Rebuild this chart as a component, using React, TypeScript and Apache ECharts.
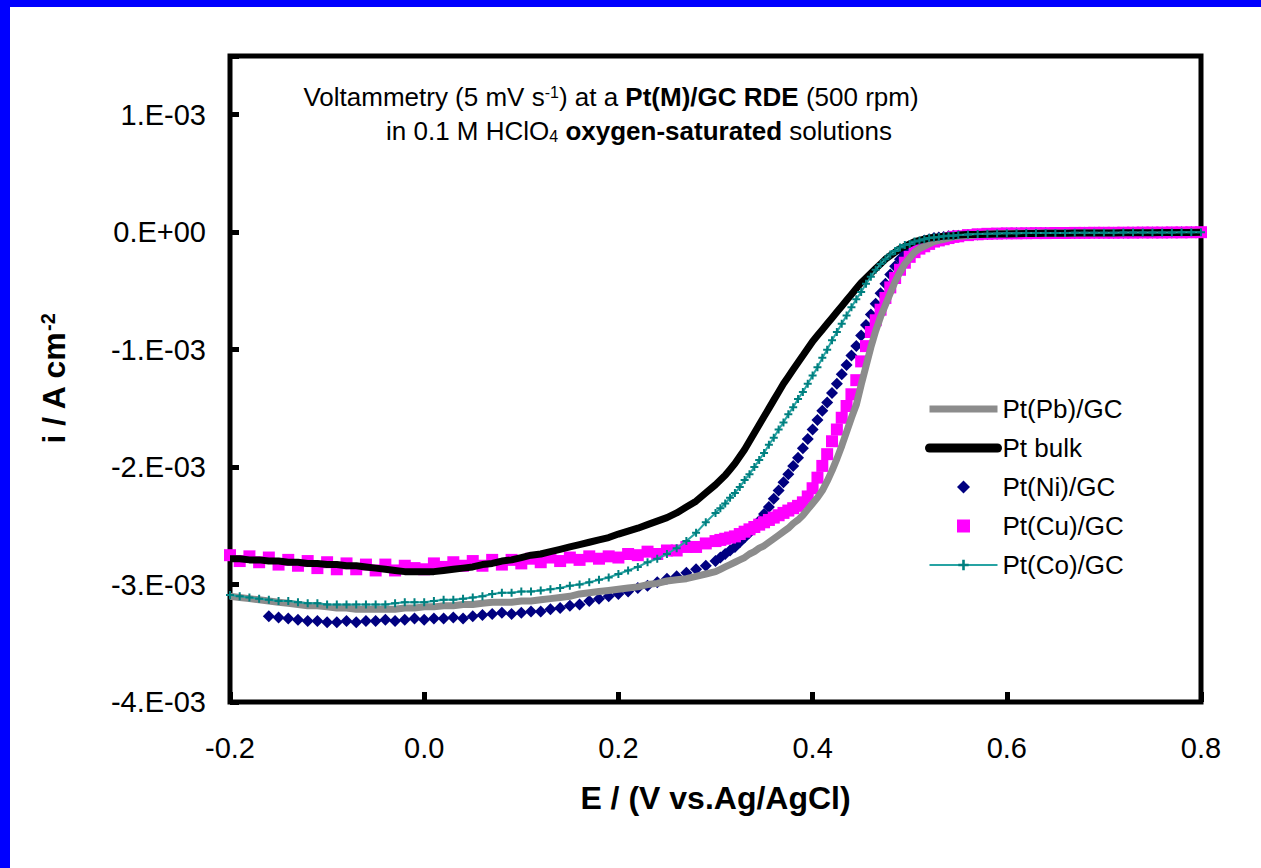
import React, { useEffect, useRef } from 'react';
import * as echarts from 'echarts';

// Potential E / V vs. Ag/AgCl
const potential = [
  -0.20, -0.19, -0.18, -0.17, -0.16, -0.15, -0.14, -0.13, -0.12, -0.11,
  -0.10, -0.09, -0.08, -0.07, -0.06, -0.05, -0.04, -0.03, -0.02, -0.01,
  0.00, 0.01, 0.02, 0.03, 0.04, 0.05, 0.06, 0.07, 0.08, 0.09,
  0.10, 0.11, 0.12, 0.13, 0.14, 0.15, 0.16, 0.17, 0.18, 0.19,
  0.20, 0.21, 0.22, 0.23, 0.24, 0.25, 0.26, 0.27, 0.28, 0.29,
  0.30,
  0.305, 0.31, 0.315, 0.32, 0.325, 0.33, 0.335, 0.34, 0.345, 0.35,
  0.355, 0.36, 0.365, 0.37, 0.375, 0.38, 0.385, 0.39, 0.395, 0.40,
  0.405, 0.41, 0.415, 0.42, 0.425, 0.43, 0.435, 0.44, 0.445, 0.45,
  0.455, 0.46, 0.465, 0.47, 0.475, 0.48, 0.485, 0.49, 0.495, 0.50,
  0.505, 0.51, 0.515, 0.52, 0.525, 0.53, 0.535, 0.54, 0.545, 0.55,
  0.56, 0.57, 0.58, 0.59, 0.60, 0.61, 0.62, 0.63, 0.64, 0.65,
  0.66, 0.67, 0.68, 0.69, 0.70, 0.71, 0.72, 0.73, 0.74, 0.75,
  0.76, 0.77, 0.78, 0.79, 0.80,
];

// Current density, in units of 1E-03 A cm^-2
const currentPtPb = [
  -3.10, -3.11, -3.12, -3.13, -3.14, -3.15, -3.16, -3.17, -3.18, -3.18,
  -3.19, -3.20, -3.20, -3.21, -3.21, -3.21, -3.21, -3.21, -3.20, -3.20,
  -3.19, -3.19, -3.18, -3.18, -3.17, -3.17, -3.16, -3.15, -3.15, -3.15,
  -3.14, -3.14, -3.13, -3.12, -3.11, -3.10, -3.08, -3.07, -3.06, -3.05,
  -3.04, -3.03, -3.02, -3.00, -2.99, -2.97, -2.96, -2.95, -2.93, -2.91,
  -2.89,
  -2.87, -2.85, -2.83, -2.81, -2.79, -2.77, -2.74, -2.72, -2.69, -2.67,
  -2.64, -2.61, -2.58, -2.55, -2.52, -2.48, -2.45, -2.41, -2.36, -2.31,
  -2.26, -2.20, -2.12, -2.03, -1.93, -1.82, -1.70, -1.58, -1.47, -1.30,
  -1.14, -0.98, -0.84, -0.72, -0.62, -0.52, -0.42, -0.34, -0.27, -0.22,
  -0.17, -0.14, -0.12, -0.10, -0.08, -0.07, -0.06, -0.05, -0.04, -0.035,
  -0.030, -0.022, -0.016, -0.013, -0.011, -0.010, -0.009, -0.008, -0.007, -0.007,
  -0.006, -0.006, -0.005, -0.005, -0.004, -0.004, -0.004, -0.003, -0.003, -0.003,
  -0.002, -0.002, -0.002, -0.001, -0.001,
];

const currentPtBulk = [
  -2.78, -2.78, -2.79, -2.79, -2.80, -2.80, -2.81, -2.81, -2.82, -2.82,
  -2.83, -2.83, -2.84, -2.84, -2.85, -2.86, -2.87, -2.88, -2.89, -2.89,
  -2.89, -2.89, -2.88, -2.87, -2.86, -2.85, -2.83, -2.82, -2.80, -2.79,
  -2.77, -2.75, -2.74, -2.72, -2.70, -2.68, -2.66, -2.64, -2.62, -2.60,
  -2.57, -2.545, -2.52, -2.49, -2.46, -2.43, -2.39, -2.34, -2.29, -2.22,
  -2.15,
  -2.11, -2.07, -2.02, -1.97, -1.91, -1.85, -1.78, -1.71, -1.64, -1.57,
  -1.50, -1.43, -1.36, -1.29, -1.23, -1.17, -1.11, -1.05, -0.99, -0.93,
  -0.88, -0.83, -0.78, -0.73, -0.68, -0.63, -0.58, -0.53, -0.48, -0.43,
  -0.39, -0.35, -0.31, -0.27, -0.23, -0.20, -0.17, -0.14, -0.12, -0.10,
  -0.08, -0.07, -0.06, -0.05, -0.045, -0.04, -0.035, -0.03, -0.03, -0.025,
  -0.020, -0.020, -0.018, -0.016, -0.015, -0.013, -0.012, -0.011, -0.010, -0.010,
  -0.009, -0.008, -0.008, -0.007, -0.006, -0.006, -0.005, -0.005, -0.004, -0.004,
  -0.003, -0.003, -0.002, -0.002, -0.001,
];

const currentPtNi = [
  null, null, null, null, -3.27, -3.28, -3.29, -3.30, -3.31, -3.31,
  -3.32, -3.32, -3.31, -3.32, -3.31, -3.31, -3.30, -3.31, -3.30, -3.29,
  -3.30, -3.29, -3.29, -3.28, -3.29, -3.27, -3.26, -3.25, -3.24, -3.25,
  -3.24, -3.23, -3.23, -3.21, -3.20, -3.18, -3.17, -3.14, -3.12, -3.10,
  -3.08, -3.06, -3.03, -3.01, -2.98, -2.95, -2.93, -2.90, -2.87, -2.84,
  -2.80,
  -2.77, -2.74, -2.71, -2.68, -2.64, -2.60, -2.56, -2.52, -2.46, -2.40,
  -2.34, -2.27, -2.20, -2.13, -2.06, -1.99, -1.92, -1.84, -1.76, -1.68,
  -1.60, -1.52, -1.45, -1.37, -1.29, -1.21, -1.13, -1.05, -0.97, -0.88,
  -0.79, -0.70, -0.61, -0.52, -0.44, -0.36, -0.29, -0.23, -0.18, -0.14,
  -0.11, -0.09, -0.07, -0.06, -0.05, -0.045, -0.04, -0.035, -0.03, -0.03,
  -0.025, -0.020, -0.016, -0.013, -0.011, -0.010, -0.009, -0.008, -0.008, -0.007,
  -0.006, -0.006, -0.005, -0.005, -0.005, -0.004, -0.004, -0.003, -0.003, -0.003,
  -0.002, -0.002, -0.001, -0.001, 0.000,
];

const currentPtCu = [
  -2.75, -2.80, -2.76, -2.81, -2.77, -2.83, -2.79, -2.84, -2.80, -2.86,
  -2.81, -2.87, -2.82, -2.87, -2.83, -2.88, -2.83, -2.88, -2.84, -2.86,
  -2.87, -2.82, -2.85, -2.81, -2.84, -2.80, -2.84, -2.79, -2.83, -2.79,
  -2.82, -2.78, -2.81, -2.77, -2.80, -2.77, -2.79, -2.76, -2.78, -2.76,
  -2.77, -2.74, -2.75, -2.72, -2.74, -2.71, -2.71, -2.68, -2.68, -2.65,
  -2.63,
  -2.62, -2.61, -2.60, -2.59, -2.57, -2.55, -2.53, -2.51, -2.49, -2.47,
  -2.45, -2.43, -2.41, -2.39, -2.37, -2.35, -2.33, -2.30, -2.25, -2.18,
  -2.09, -1.99, -1.89, -1.78, -1.68, -1.58, -1.48, -1.38, -1.26, -1.10,
  -0.97, -0.85, -0.75, -0.66, -0.56, -0.47, -0.39, -0.32, -0.26, -0.21,
  -0.17, -0.14, -0.12, -0.10, -0.08, -0.07, -0.06, -0.05, -0.04, -0.035,
  -0.025, -0.018, -0.014, -0.012, -0.010, -0.010, -0.009, -0.008, -0.008, -0.007,
  -0.007, -0.006, -0.006, -0.005, -0.005, -0.005, -0.004, -0.004, -0.003, -0.003,
  -0.003, -0.002, -0.002, -0.001, 0.000,
];

const currentPtCo = [
  -3.09, -3.10, -3.11, -3.12, -3.13, -3.14, -3.14, -3.15, -3.16, -3.16,
  -3.17, -3.17, -3.17, -3.17, -3.17, -3.17, -3.17, -3.16, -3.15, -3.15,
  -3.15, -3.14, -3.13, -3.13, -3.12, -3.11, -3.10, -3.08, -3.07, -3.07,
  -3.06, -3.06, -3.05, -3.04, -3.03, -3.01, -3.00, -2.98, -2.96, -2.94,
  -2.91, -2.88, -2.85, -2.81, -2.78, -2.74, -2.69, -2.63, -2.56, -2.47,
  -2.39,
  -2.35, -2.31, -2.26, -2.22, -2.17, -2.11, -2.06, -2.00, -1.94, -1.88,
  -1.81, -1.75, -1.68, -1.62, -1.55, -1.49, -1.42, -1.36, -1.29, -1.22,
  -1.15, -1.07, -1.00, -0.92, -0.85, -0.78, -0.71, -0.64, -0.57, -0.51,
  -0.44, -0.38, -0.32, -0.27, -0.23, -0.19, -0.16, -0.13, -0.11, -0.10,
  -0.08, -0.07, -0.06, -0.05, -0.045, -0.04, -0.035, -0.03, -0.03, -0.025,
  -0.020, -0.016, -0.013, -0.011, -0.010, -0.009, -0.008, -0.007, -0.007, -0.006,
  -0.006, -0.005, -0.005, -0.004, -0.004, -0.004, -0.003, -0.003, -0.003, -0.002,
  -0.002, -0.002, -0.001, -0.001, 0.000,
];

const seriesNames = ['Pt(Pb)/GC', 'Pt bulk', 'Pt(Ni)/GC', 'Pt(Cu)/GC', 'Pt(Co)/GC'];

const FONT = '"Liberation Sans", Arial, Helvetica, sans-serif';
const CROSS = 'path://M3,0h2v3h3v2h-3v3h-2v-3h-3v-2h3z';
const DIAMOND = 'path://M5,0L10,5L5,10L0,5Z';
const SQUARE = 'path://M0,0H10V10H0Z';
const HIDDEN_MARK = { color: 'rgba(0,0,0,0)', opacity: 0, borderWidth: 0 };

function pairs(values: (number | null)[]) {
  return potential
    .map((e, k) => [e, values[k]])
    .filter((p) => p[1] !== null && p[1] !== undefined);
}

export default function App() {
  const ref = useRef<HTMLDivElement>(null);

  useEffect(() => {
    if (!ref.current) return;
    const chart = echarts.init(ref.current, null, { renderer: 'svg' });

    const option: any = {
      animation: false,
      backgroundColor: '#ffffff',
      textStyle: { fontFamily: FONT },
      grid: {
        left: 230,
        right: 60,
        top: 56,
        bottom: 166,
        show: true,
        borderColor: '#000000',
        borderWidth: 5,
        backgroundColor: 'transparent',
      },
      xAxis: {
        type: 'value',
        min: -0.2,
        max: 0.8,
        interval: 0.2,
        axisLine: { show: false, onZero: false },
        axisTick: { show: true, inside: true, length: 10, lineStyle: { color: '#000', width: 5 } },
        splitLine: { show: false },
        axisLabel: {
          formatter: (v: number) => v.toFixed(1),
          fontSize: 29,
          color: '#000',
          margin: 31,
          fontFamily: FONT,
        },
        name: 'E / (V vs.Ag/AgCl)',
        nameLocation: 'middle',
        nameGap: 80,
        nameTextStyle: { fontSize: 32, fontWeight: 'bold', color: '#000', fontFamily: FONT },
      },
      yAxis: {
        type: 'value',
        min: -4,
        max: 1.5,
        interval: 1,
        axisLine: { show: false, onZero: false },
        axisTick: { show: true, inside: true, length: 9, lineStyle: { color: '#000', width: 5 } },
        splitLine: { show: false },
        axisLabel: {
          formatter: (v: number) => {
            const k = Math.round(v);
            if (Math.abs(v - k) > 1e-6) return '';
            return k === 0 ? '0.E+00' : `${k}.E-03`;
          },
          fontSize: 29,
          color: '#000',
          margin: 24,
          fontFamily: FONT,
        },
        name: '{a|i / A cm}{s|-2}',
        nameLocation: 'middle',
        nameGap: 160,
        nameRotate: 90,
        nameTextStyle: {
          color: '#000',
          rich: {
            a: { fontSize: 32, fontWeight: 'bold', color: '#000', fontFamily: FONT },
            s: { fontSize: 20, fontWeight: 'bold', color: '#000', fontFamily: FONT, verticalAlign: 'top' },
          },
        },
      },
      legend: {
        orient: 'vertical',
        left: 925,
        top: 396,
        padding: 0,
        itemWidth: 68,
        itemHeight: 13,
        itemGap: 13,
        selectedMode: false,
        textStyle: { fontSize: 26, color: '#000', fontFamily: FONT },
        data: [
          { name: seriesNames[0], itemStyle: HIDDEN_MARK, lineStyle: { width: 7, color: '#8c8c8c' } },
          { name: seriesNames[1], itemStyle: HIDDEN_MARK, lineStyle: { width: 9, color: '#000', cap: 'round' } },
          { name: seriesNames[2], icon: DIAMOND },
          { name: seriesNames[3], icon: SQUARE },
          { name: seriesNames[4], lineStyle: { width: 2 } },
        ],
      },
      graphic: [
        { type: 'rect', shape: { x: 0, y: 0, width: 1261, height: 7 }, style: { fill: '#0000ff' }, silent: true },
        { type: 'rect', shape: { x: 0, y: 0, width: 10, height: 868 }, style: { fill: '#0000ff' }, silent: true },
        {
          type: 'text',
          x: 611,
          y: 97,
          silent: true,
          style: {
            text: '{n|Voltammetry (5 mV s}{sup|-1}{n|) at a }{b|Pt(M)/GC RDE}{n| (500 rpm)}',
            align: 'center',
            verticalAlign: 'middle',
            rich: {
              n: { fontSize: 26, fill: '#000', fontFamily: FONT },
              b: { fontSize: 26, fill: '#000', fontFamily: FONT, fontWeight: 'bold' },
              sup: { fontSize: 16, fill: '#000', fontFamily: FONT, verticalAlign: 'top' },
            },
          },
        },
        {
          type: 'text',
          x: 639,
          y: 131,
          silent: true,
          style: {
            text: '{n|in 0.1 M HClO}{sub|4}{n| }{b|oxygen-saturated}{n| solutions}',
            align: 'center',
            verticalAlign: 'middle',
            rich: {
              n: { fontSize: 26, fill: '#000', fontFamily: FONT },
              b: { fontSize: 26, fill: '#000', fontFamily: FONT, fontWeight: 'bold' },
              sub: { fontSize: 16, fill: '#000', fontFamily: FONT, verticalAlign: 'bottom' },
            },
          },
        },
      ],
      series: [
        {
          name: seriesNames[0],
          type: 'line',
          data: pairs(currentPtPb),
          symbol: 'none',
          lineStyle: { width: 7, color: '#8c8c8c' },
          itemStyle: { color: '#8c8c8c' },
          silent: true,
        },
        {
          name: seriesNames[1],
          type: 'line',
          data: pairs(currentPtBulk),
          symbol: 'none',
          lineStyle: { width: 7, color: '#000000' },
          itemStyle: { color: '#000000' },
          silent: true,
        },
        {
          name: seriesNames[2],
          type: 'scatter',
          data: pairs(currentPtNi),
          symbol: 'diamond',
          symbolSize: 12,
          itemStyle: { color: '#000080', opacity: 1 },
          silent: true,
        },
        {
          name: seriesNames[3],
          type: 'scatter',
          data: pairs(currentPtCu),
          symbol: 'rect',
          symbolSize: 12,
          itemStyle: { color: '#ff00ff', opacity: 1 },
          silent: true,
        },
        {
          name: seriesNames[4],
          type: 'line',
          data: pairs(currentPtCo),
          symbol: CROSS,
          symbolSize: 8,
          showSymbol: true,
          showAllSymbol: true,
          lineStyle: { width: 2, color: '#26a3a3' },
          itemStyle: { color: '#008080' },
          silent: true,
        },
      ],
    };

    chart.setOption(option);
    return () => chart.dispose();
  }, []);

  return (
    <div
      ref={ref}
      style={{ position: 'absolute', left: 0, top: 0, width: 1261, height: 868, background: '#fff' }}
    />
  );
}
